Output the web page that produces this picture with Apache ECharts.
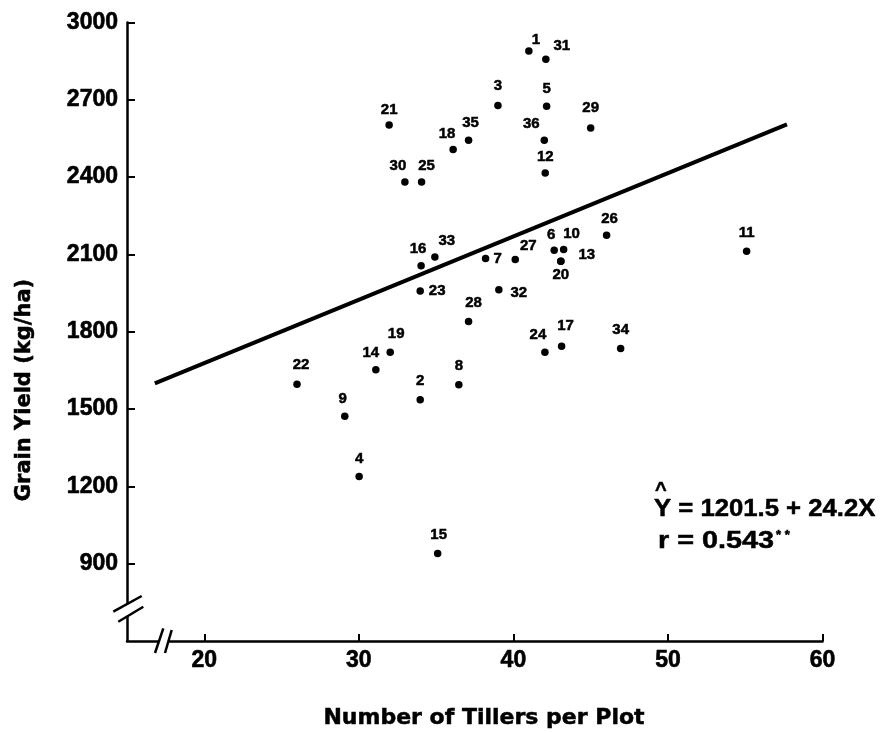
<!DOCTYPE html>
<html>
<head>
<meta charset="utf-8">
<script src="https://cdn.jsdelivr.net/npm/echarts@6.0.0/dist/echarts.min.js"></script>
<style>
html,body{margin:0;padding:0;background:#fff;}
#chart{width:883px;height:733px;}
</style>
</head>
<body>
<div id="chart"></div>
<script>
// ---- data ----
const plotIds   = [1,2,3,4,5,6,7,8,9,10,11,12,13,14,15,16,17,18,19,20,21,22,23,24,25,26,27,28,29,30,31,32,33,34,35,36];
const tillers   = [41.0,33.97,39.0,30.02,42.15,42.64,38.2,36.47,29.09,43.25,55.09,42.06,43.07,31.1,35.1,34.03,43.12,36.1,32.03,43.07,31.96,26.0,33.97,42.04,34.06,46.03,40.12,37.1,45.0,32.98,42.1,39.06,34.92,46.94,37.1,42.0];
const grainYield= [2889,1536,2678,1238,2675,2116,2084,1594,1472,2119,2112,2416,2074,1653,940,2056,1744,2507,1720,2074,2602,1596,1958,1720,2381,2174,2080,1840,2591,2381,2857,1963,2090,1735,2543,2543];
const fitLineX  = [16.8, 57.7];
const fitLineY  = [1600, 2605];
const xTicks    = [20,30,40,50,60];
const yTicks    = [900,1200,1500,1800,2100,2400,2700,3000];

// label placement (pixel offsets of each number from its dot)
const labelOffsets = {
 1:[7,-11],2:[0,-19],3:[0,-20],4:[0,-18],5:[0,-17],6:[-3,-15],7:[12,0],8:[0,-19],9:[-2,-17],
 10:[8,-16],11:[0,-18],12:[0,-16],13:[26,-6],14:[-5,-17],15:[1,-19],16:[-3,-17],17:[4,-20],
 18:[-6,-16],19:[6,-19],20:[0,14],21:[0,-15],22:[4,-19],23:[17,0],24:[-7,-18],25:[5,-16],
 26:[3,-17],27:[13,-14],28:[5,-19],29:[0,-20],30:[-7,-16],31:[16,-13],32:[20,3],33:[12,-16],
 34:[0,-19],35:[2,-17],36:[-13,-16]
};

const NUMFONT = "'Liberation Sans', Arial, Helvetica, sans-serif";
const TITLEFONT = "'DejaVu Sans', 'Liberation Sans', sans-serif";

const scatterData = plotIds.map((id, i) => ({
  name: String(id),
  value: [tillers[i], grainYield[i]],
  label: { offset: labelOffsets[id] }
}));
const lineData = fitLineX.map((x, i) => [x, fitLineY[i]]);

const heavy = { textBorderColor: '#000', textBorderWidth: 0.6 };

const chart = echarts.init(document.getElementById('chart'), null, {renderer: 'canvas'});
const option = {
  animation: false,
  backgroundColor: '#fff',
  grid: { left: 127, right: 60.5, top: 22.5, bottom: 92, containLabel: false },
  xAxis: {
    type: 'value', min: 15, max: 60,
    axisLine: { show: true, onZero: false, lineStyle: { color: '#000', width: 2.5 } },
    axisTick: { show: true, inside: true, length: 7, customValues: xTicks, lineStyle: { color: '#000', width: 2 } },
    axisLabel: Object.assign({ customValues: xTicks, color: '#000', fontSize: 23, fontWeight: 'bold', fontFamily: NUMFONT, margin: 8,
      formatter: v => String(v) }, heavy),
    splitLine: { show: false }
  },
  yAxis: {
    type: 'value', min: 600, max: 3000,
    axisLine: { show: true, onZero: false, lineStyle: { color: '#000', width: 2.5 } },
    axisTick: { show: true, inside: true, length: 8, customValues: yTicks, lineStyle: { color: '#000', width: 2 } },
    axisLabel: Object.assign({ customValues: yTicks, color: '#000', fontSize: 23, fontWeight: 'bold', fontFamily: NUMFONT, margin: 9,
      formatter: v => String(v) }, heavy),
    splitLine: { show: false }
  },
  series: [
    {
      type: 'line', data: lineData, symbol: 'none', silent: true,
      lineStyle: { color: '#000', width: 4, opacity: 1 }, z: 2
    },
    {
      type: 'scatter', data: scatterData, symbol: 'circle', symbolSize: 7.5,
      itemStyle: { color: '#000', opacity: 1 }, z: 3,
      label: {
        show: true, position: 'inside', formatter: '{b}', color: '#000',
        fontSize: 15, fontWeight: 'bold', fontFamily: NUMFONT,
        align: 'center', verticalAlign: 'middle',
        textBorderColor: '#000', textBorderWidth: 0.5
      },
      emphasis: { disabled: true }
    }
  ]
};
chart.setOption(option);

// decorations: axis breaks and annotations
const corner = chart.convertToPixel({gridIndex: 0}, [15, 600]);
const cx = corner[0], cy = corner[1];
const ln = (x1, y1, x2, y2, w) => ({ type: 'line', shape: {x1, y1, x2, y2}, style: {stroke: '#000', lineWidth: w || 2.5}, z: 10 });
const txt = (x, y, text, size, font, extra) => Object.assign({ type: 'text', x, y, z: 10,
  style: Object.assign({ text, fontSize: size, fontWeight: 'bold', fontFamily: font, fill: '#000',
    align: 'left', verticalAlign: 'middle', stroke: '#000', lineWidth: 0.5 }, (extra && extra.style) || {}) },
  (extra && extra.el) || {});
chart.setOption({
  graphic: [
    // gaps in the axes
    { type: 'rect', shape: {x: cx - 3, y: cy - 37, width: 6, height: 12.5}, style: {fill: '#fff'}, z: 9 },
    { type: 'rect', shape: {x: cx + 32, y: cy - 3, width: 9.5, height: 6}, style: {fill: '#fff'}, z: 9 },
    // y break marks
    ln(cx - 13.7, cy - 29.3, cx + 14.7, cy - 45),
    ln(cx - 8.7, cy - 19.3, cx + 16.3, cy - 34.3),
    // x break marks
    ln(cx + 28, cy + 12, cx + 36.3, cy - 12.7),
    ln(cx + 38, cy + 12, cx + 44.7, cy - 11),
    // axis titles
    txt(25, 390, 'Grain Yield (kg/ha)', 21, TITLEFONT, { style: { align: 'center' }, el: { rotation: Math.PI / 2 } }),
    txt(484, 718, 'Number of Tillers per Plot', 22, TITLEFONT, { style: { align: 'center' } }),
    // regression annotation
    txt(655, 490, '^', 20, NUMFONT),
    txt(654, 509, 'Y = 1201.5 + 24.2X', 24, NUMFONT, { el: { scaleX: 1.07 } }),
    txt(658, 541, 'r = 0.543', 24, NUMFONT, { el: { scaleX: 1.2 } }),
    txt(776, 535, '* *', 13, NUMFONT)
  ]
});
</script>
</body>
</html>
